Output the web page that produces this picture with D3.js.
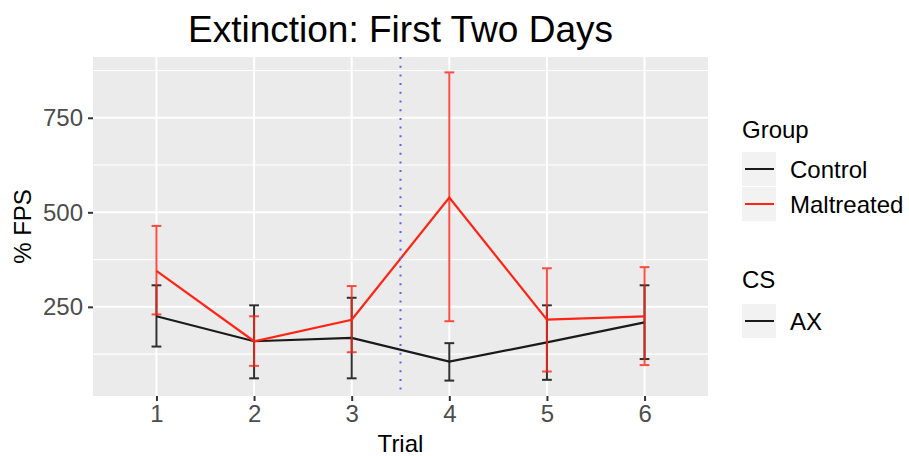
<!DOCTYPE html>
<html>
<head>
<meta charset="utf-8">
<script src="https://cdn.jsdelivr.net/npm/d3@7"></script>
<style>
  html, body { margin: 0; padding: 0; background: #ffffff; }
  svg { display: block; font-family: "Liberation Sans", Arial, Helvetica, sans-serif; }
</style>
</head>
<body>
<svg id="chart" width="909" height="456"></svg>
<script>
// Trial means with error-bar bounds per group
const trials = [1, 2, 3, 4, 5, 6];
const controlMean = [225, 159, 168, 105, 156, 209];
const controlLow  = [145, 61, 61, 55, 57, 112];
const controlHigh = [307, 254, 274, 154, 254, 307];
const maltMean = [345, 159, 216, 539, 216, 225];
const maltLow  = [230, 94, 130, 212, 79, 96];
const maltHigh = [464, 225, 305, 870, 352, 355];
const groups = ["Control", "Maltreated"];
const groupColors = ["#1a1a1a", "#ff2414"];
const csLevels = ["AX"];
const yTicks = [250, 500, 750];
const yMinor = [125, 375, 625, 875];
const phaseBreak = 3.5;

const svg = d3.select("#chart");
const panel = { left: 93, right: 708, top: 57, bottom: 396 };

const allVals = controlLow.concat(controlHigh, maltLow, maltHigh);
const yMin = d3.min(allVals), yMax = d3.max(allVals);
const pad = (yMax - yMin) * 0.05;
const y = d3.scaleLinear().domain([yMin - pad, yMax + pad]).range([panel.bottom, panel.top]);
const x = d3.scaleLinear().domain([0.35, 6.65]).range([panel.left, panel.right]);

// panel background
svg.append("rect")
  .attr("x", panel.left).attr("y", panel.top)
  .attr("width", panel.right - panel.left).attr("height", panel.bottom - panel.top)
  .attr("fill", "#ebebeb");

const grid = svg.append("g");
grid.selectAll("line.minor").data(yMinor).join("line")
  .attr("x1", panel.left).attr("x2", panel.right)
  .attr("y1", d => y(d)).attr("y2", d => y(d))
  .attr("stroke", "#ffffff").attr("stroke-width", 1.1);
grid.selectAll("line.majy").data(yTicks).join("line")
  .attr("x1", panel.left).attr("x2", panel.right)
  .attr("y1", d => y(d)).attr("y2", d => y(d))
  .attr("stroke", "#ffffff").attr("stroke-width", 2);
grid.selectAll("line.majx").data(trials).join("line")
  .attr("y1", panel.top).attr("y2", panel.bottom)
  .attr("x1", d => x(d)).attr("x2", d => x(d))
  .attr("stroke", "#ffffff").attr("stroke-width", 2);

// series
const series = [
  { name: groups[0], color: groupColors[0], mean: controlMean, low: controlLow, high: controlHigh, barOpacity: 0.9 },
  { name: groups[1], color: groupColors[1], mean: maltMean, low: maltLow, high: maltHigh, barOpacity: 0.8 }
];
const capHalf = 0.05;
const line = d3.line().x(d => x(d[0])).y(d => y(d[1]));

series.forEach(s => {
  const g = svg.append("g");
  const rows = trials.map((t, i) => ({ t, lo: s.low[i], hi: s.high[i] }));
  const eb = g.append("g").attr("stroke", s.color).attr("stroke-width", 2).attr("opacity", s.barOpacity);
  eb.selectAll("line.v").data(rows).join("line")
    .attr("x1", d => x(d.t)).attr("x2", d => x(d.t))
    .attr("y1", d => y(d.lo)).attr("y2", d => y(d.hi));
  eb.selectAll("line.hi").data(rows).join("line")
    .attr("x1", d => x(d.t - capHalf)).attr("x2", d => x(d.t + capHalf))
    .attr("y1", d => y(d.hi)).attr("y2", d => y(d.hi));
  eb.selectAll("line.lo").data(rows).join("line")
    .attr("x1", d => x(d.t - capHalf)).attr("x2", d => x(d.t + capHalf))
    .attr("y1", d => y(d.lo)).attr("y2", d => y(d.lo));
  g.append("path")
    .attr("d", line(trials.map((t, i) => [t, s.mean[i]])))
    .attr("fill", "none").attr("stroke", s.color).attr("stroke-width", 2.2);
});

// phase boundary
svg.append("line")
  .attr("x1", x(phaseBreak)).attr("x2", x(phaseBreak))
  .attr("y1", panel.top).attr("y2", panel.bottom)
  .attr("stroke", "#5f5fff").attr("stroke-width", 2)
  .attr("stroke-dasharray", "2,6.7");

// axes
const yAxis = svg.append("g").attr("transform", `translate(${panel.left},0)`)
  .call(d3.axisLeft(y).tickValues(yTicks).tickSize(5).tickPadding(5));
const xAxis = svg.append("g").attr("transform", `translate(0,${panel.bottom})`)
  .call(d3.axisBottom(x).tickValues(trials).tickFormat(d3.format("d")).tickSize(5).tickPadding(4));
[yAxis, xAxis].forEach(a => {
  a.select(".domain").remove();
  a.selectAll(".tick line").attr("stroke", "#333333").attr("stroke-width", 2);
  a.selectAll(".tick text").attr("fill", "#4d4d4d").attr("font-size", 24)
    .attr("font-family", "'Liberation Sans', Arial, sans-serif");
});

// titles
const cx = (panel.left + panel.right) / 2;
svg.append("text").attr("x", cx).attr("y", 42).attr("text-anchor", "middle")
  .attr("font-size", 37).attr("fill", "#000").text("Extinction: First Two Days");
svg.append("text").attr("x", cx).attr("y", 452).attr("text-anchor", "middle")
  .attr("font-size", 24).attr("fill", "#000").text("Trial");
svg.append("text")
  .attr("transform", `translate(31,${(panel.top + panel.bottom) / 2}) rotate(-90)`)
  .attr("text-anchor", "middle").attr("font-size", 24).attr("fill", "#000").text("% FPS");

// legends
function legend(title, labels, colors, titleY, keyY) {
  const g = svg.append("g");
  g.append("text").attr("x", 742).attr("y", titleY).attr("font-size", 24).attr("fill", "#000").text(title);
  labels.forEach((lab, i) => {
    const ky = keyY + i * 35;
    g.append("rect").attr("x", 742).attr("y", ky).attr("width", 34).attr("height", 34).attr("fill", "#f2f2f2");
    g.append("line").attr("x1", 745).attr("x2", 774).attr("y1", ky + 17).attr("y2", ky + 17)
      .attr("stroke", colors[i]).attr("stroke-width", 2);
    g.append("text").attr("x", 790).attr("y", ky + 17).attr("dy", "0.36em")
      .attr("font-size", 24).attr("fill", "#000").text(lab);
  });
}
legend("Group", groups, groupColors, 138, 152);
legend("CS", csLevels, [groupColors[0]], 288, 304);
</script>
</body>
</html>
